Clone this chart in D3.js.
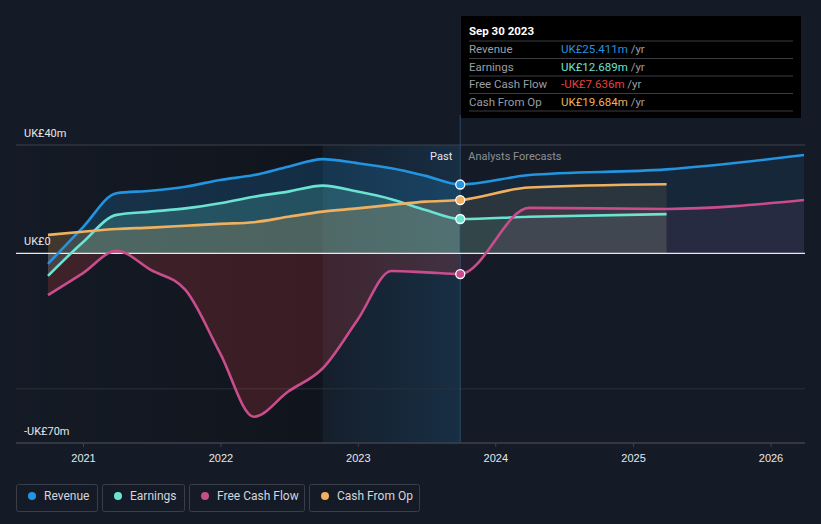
<!DOCTYPE html>
<html lang="en">
<head>
<meta charset="UTF-8">
<title>Earnings and Revenue History</title>
<script src="https://d3js.org/d3.v7.min.js"></script>
<style>
    body { margin: 0; background: #151b26; }
    svg { display: block; font-family: Roboto, "Open Sans", sans-serif; }
</style>
</head>
<body>
<svg width="821" height="524"></svg>
<script>
    // values in UK£m
    const pastDates = ["2020-09-30", "2020-12-31", "2021-03-31", "2021-06-30", "2021-09-30", "2021-12-31",
        "2022-03-31", "2022-06-30", "2022-09-30", "2022-12-31", "2023-03-31", "2023-06-30", "2023-09-30"];
    const forecastDates = ["2024-03-31", "2025-03-31", "2026-03-31"];

    const revenuePast = [-3.9, 9.5, 22.2, 23.1, 24.6, 27.1, 28.9, 32.0, 34.8, 33.3, 31.4, 28.6, 25.411];
    const revenueForecast = [28.9, 31.0, 36.3];
    const earningsPast = [-8.3, 4.0, 14.2, 15.4, 16.6, 18.5, 20.9, 22.8, 25.0, 22.8, 20.0, 16.0, 12.689];
    const earningsForecast = [13.5, 14.5];
    const fcfPast = [-15.4, -7.4, 0.9, -6.1, -13.5, -36.8, -60.3, -51.0, -42.4, -24.6, -6.5, -7.0, -7.636];
    const fcfForecast = [16.8, 16.4, 19.7];
    const cfoPast = [6.8, 8.0, 9.0, 9.5, 10.2, 10.9, 11.5, 13.5, 15.4, 16.6, 17.9, 19.1, 19.684];
    const cfoForecast = [24.3, 25.5];

    const yTicks = [40, 0, -70];
    const yTickLabels = ["UK£40m", "UK£0", "-UK£70m"];
    const xTickYears = [2021, 2022, 2023, 2024, 2025, 2026];

    const parse = d3.timeParse("%Y-%m-%d");

    function makeSeries(past, forecast) {
        const pts = past.map((v, i) => ({ date: parse(pastDates[i]), value: v }));
        forecast.forEach((v, i) => pts.push({ date: parse(forecastDates[i]), value: v }));
        return pts;
    }

    const series = [
        { name: "Revenue", color: "#2394df", data: makeSeries(revenuePast, revenueForecast), tip: "UK£25.411m" },
        { name: "Earnings", color: "#6be3d2", data: makeSeries(earningsPast, earningsForecast), tip: "UK£12.689m" },
        { name: "Free Cash Flow", color: "#c94d8c", data: makeSeries(fcfPast, fcfForecast), tip: "-UK£7.636m", tipColor: "#e64141", areaColor: "#e64141" },
        { name: "Cash From Op", color: "#efb15f", data: makeSeries(cfoPast, cfoForecast), tip: "UK£19.684m" }
    ];

    const svg = d3.select("svg");
    const pLeft = 16, pRight = 805, pTop = 145, pBottom = 443;

    const x = d3.scaleTime()
        .domain([new Date(2021, 0, 1), new Date(2026, 0, 1)])
        .range([83, 770.5]);
    const y = d3.scaleLinear().domain([-70, 40]).range([pBottom, pTop]);

    const nowDate = parse("2023-09-30");
    const bandStart = parse("2022-09-30");
    const xNow = x(nowDate), xBand = x(bandStart);

    const defs = svg.append("defs");
    const g1 = defs.append("linearGradient").attr("id", "pastDark");
    g1.append("stop").attr("offset", "0").attr("stop-color", "#000").attr("stop-opacity", 0.02);
    g1.append("stop").attr("offset", "1").attr("stop-color", "#000").attr("stop-opacity", 0.25);
    const g2 = defs.append("linearGradient").attr("id", "pastBand");
    g2.append("stop").attr("offset", "0").attr("stop-color", "#2394df").attr("stop-opacity", 0.03);
    g2.append("stop").attr("offset", "1").attr("stop-color", "#2394df").attr("stop-opacity", 0.16);

    defs.append("clipPath").attr("id", "clipPast").append("rect")
        .attr("x", 0).attr("y", 0).attr("width", xNow).attr("height", 524);
    defs.append("clipPath").attr("id", "clipFuture").append("rect")
        .attr("x", xNow).attr("y", 0).attr("width", 821 - xNow).attr("height", 524);

    // past shading
    svg.append("rect").attr("x", pLeft).attr("y", pTop).attr("width", xBand - pLeft)
        .attr("height", pBottom - pTop).attr("fill", "url(#pastDark)");
    svg.append("rect").attr("x", xBand).attr("y", pTop).attr("width", xNow - xBand)
        .attr("height", pBottom - pTop).attr("fill", "url(#pastBand)");

    // grid lines
    svg.append("line").attr("x1", pLeft).attr("x2", pRight).attr("y1", y(40)).attr("y2", y(40))
        .attr("stroke", "#3c424c").attr("stroke-width", 1);
    svg.append("line").attr("x1", pLeft).attr("x2", pRight).attr("y1", y(-50)).attr("y2", y(-50))
        .attr("stroke", "#2a303a").attr("stroke-width", 1);

    const curve = d3.curveMonotoneX;
    const area = d3.area().x(d => x(d.date)).y0(y(0)).y1(d => y(d.value)).curve(curve);
    const line = d3.line().x(d => x(d.date)).y(d => y(d.value)).curve(curve);

    // areas, stronger in the past than in the forecast
    [["clipPast", 0.2], ["clipFuture", 0.1]].forEach(([clip, op]) => {
        const ga = svg.append("g").attr("clip-path", "url(#" + clip + ")");
        ga.selectAll("path").data(series).enter().append("path")
            .attr("d", d => area(d.data))
            .attr("fill", d => d.areaColor && clip === "clipPast" ? d.areaColor : d.color)
            .attr("fill-opacity", op);
    });

    // divider
    svg.append("line").attr("x1", xNow).attr("x2", xNow).attr("y1", pTop - 30).attr("y2", pBottom)
        .attr("stroke", "#2c4a66").attr("stroke-width", 1);

    // zero line
    svg.append("line").attr("x1", pLeft).attr("x2", pRight).attr("y1", y(0)).attr("y2", y(0))
        .attr("stroke", "#e8e8e8").attr("stroke-width", 1.2);

    // lines
    svg.append("g").selectAll("path").data(series).enter().append("path")
        .attr("d", d => line(d.data))
        .attr("fill", "none")
        .attr("stroke", d => d.color)
        .attr("stroke-width", 2.6);

    // markers at the last reported date
    svg.append("g").selectAll("circle").data(series).enter().append("circle")
        .attr("cx", xNow)
        .attr("cy", d => y(d.data[pastDates.length - 1].value))
        .attr("r", 4.5)
        .attr("fill", d => d.color)
        .attr("stroke", "#fff").attr("stroke-width", 1.3);

    // x axis
    svg.append("line").attr("x1", pLeft).attr("x2", pRight).attr("y1", pBottom).attr("y2", pBottom)
        .attr("stroke", "#3c424c").attr("stroke-width", 1.5);
    const xg = svg.append("g").attr("transform", "translate(0," + pBottom + ")")
        .call(d3.axisBottom(x).tickValues(xTickYears.map(yr => new Date(yr, 0, 1)))
            .tickFormat(d3.timeFormat("%Y")).tickSize(4).tickPadding(7));
    xg.select(".domain").remove();
    xg.selectAll(".tick line").attr("stroke", "#3c424c");
    xg.selectAll(".tick text").attr("fill", "#e6e8eb").attr("font-size", "11px");

    // y labels
    svg.append("g").selectAll("text").data(yTicks).enter().append("text")
        .attr("x", 24)
        .attr("y", d => y(d) - 8)
        .attr("fill", "#e6e8eb")
        .attr("font-size", "11px")
        .text((d, i) => yTickLabels[i]);

    svg.append("text").attr("x", xNow - 8).attr("y", 160).attr("text-anchor", "end")
        .attr("fill", "#e6e8eb").attr("font-size", "11px").text("Past");
    svg.append("text").attr("x", xNow + 8).attr("y", 160)
        .attr("fill", "#8b9097").attr("font-size", "11px").text("Analysts Forecasts");

    // tooltip
    const tip = svg.append("g").attr("transform", "translate(461,16)");
    tip.append("rect").attr("width", 340).attr("height", 102).attr("fill", "#000");
    tip.append("text").attr("x", 8).attr("y", 19).attr("fill", "#fff")
        .attr("font-size", "11.5px").attr("font-weight", "bold").text("Sep 30 2023");
    series.forEach((s, i) => {
        const ry = 25 + i * 17.5;
        tip.append("line").attr("x1", 8).attr("x2", 332).attr("y1", ry).attr("y2", ry)
            .attr("stroke", "#3a3d42");
        tip.append("text").attr("x", 8).attr("y", ry + 12).attr("fill", "#9a9ea4")
            .attr("font-size", "11.5px").text(s.name);
        const t = tip.append("text").attr("x", 100).attr("y", ry + 12).attr("font-size", "11.5px");
        t.append("tspan").attr("fill", s.tipColor || s.color).text(s.tip);
        t.append("tspan").attr("fill", "#9a9ea4").text(" /yr");
    });
    tip.append("line").attr("x1", 8).attr("x2", 332).attr("y1", 25 + 4 * 17.5).attr("y2", 25 + 4 * 17.5)
        .attr("stroke", "#3a3d42");

    // legend
    const legendX = [16, 102, 189, 309];
    const legendW = [81, 82, 115, 110];
    const lg = svg.append("g").selectAll("g").data(series).enter().append("g")
        .attr("transform", (d, i) => "translate(" + legendX[i] + ",484)");
    lg.append("rect").attr("x", 0.5).attr("y", 0.5).attr("width", (d, i) => legendW[i]).attr("height", 27)
        .attr("rx", 2).attr("fill", "none").attr("stroke", "#393f49");
    lg.append("circle").attr("cx", 16).attr("cy", 12).attr("r", 4).attr("fill", d => d.color);
    lg.append("text").attr("x", 28).attr("y", 16).attr("fill", "#d3d6db").attr("font-size", "12px")
        .text(d => d.name);
</script>
</body>
</html>
